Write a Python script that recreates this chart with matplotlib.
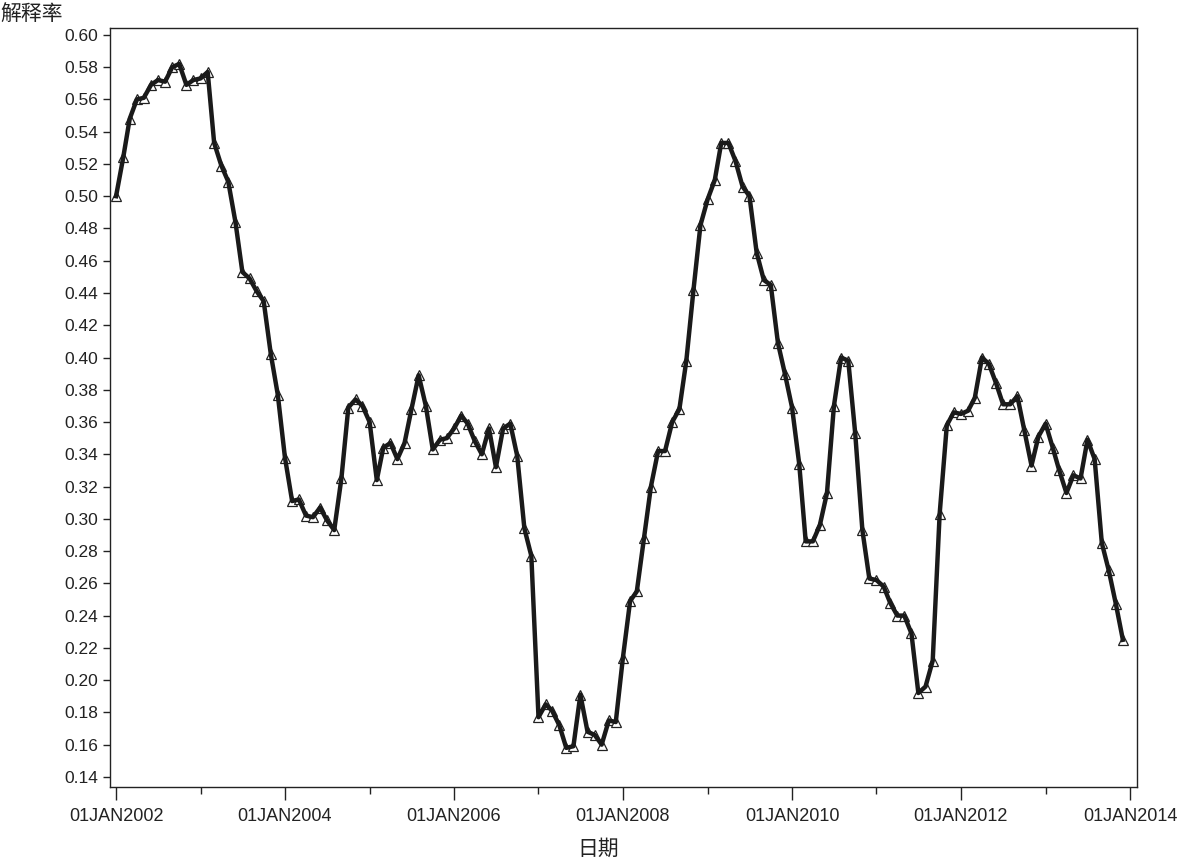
import numpy as np
import matplotlib
matplotlib.use('Agg')
import matplotlib.pyplot as plt
import matplotlib.dates as mdates
import pandas as pd
import datetime as dt

plt.rcParams['font.family'] = ['Liberation Sans', 'Noto Sans CJK SC', 'DejaVu Sans']

# monthly explained ratio, Jan 2002 - Dec 2013
r2002 = [0.500, 0.524, 0.548, 0.560, 0.561, 0.569, 0.572, 0.571, 0.580, 0.582, 0.569, 0.572]
r2003 = [0.573, 0.577, 0.533, 0.519, 0.509, 0.484, 0.453, 0.449, 0.441, 0.435, 0.402, 0.377]
r2004 = [0.338, 0.311, 0.312, 0.302, 0.301, 0.307, 0.299, 0.293, 0.325, 0.369, 0.374, 0.370]
r2005 = [0.360, 0.324, 0.344, 0.347, 0.337, 0.347, 0.368, 0.389, 0.370, 0.343, 0.349, 0.350]
r2006 = [0.356, 0.364, 0.359, 0.348, 0.340, 0.356, 0.332, 0.356, 0.359, 0.339, 0.294, 0.277]
r2007 = [0.177, 0.185, 0.181, 0.172, 0.158, 0.159, 0.191, 0.168, 0.166, 0.160, 0.175, 0.174]
r2008 = [0.214, 0.249, 0.255, 0.288, 0.320, 0.342, 0.342, 0.360, 0.368, 0.398, 0.442, 0.482]
r2009 = [0.498, 0.510, 0.533, 0.533, 0.522, 0.506, 0.500, 0.465, 0.448, 0.445, 0.409, 0.390]
r2010 = [0.369, 0.334, 0.286, 0.286, 0.296, 0.316, 0.370, 0.400, 0.398, 0.353, 0.293, 0.263]
r2011 = [0.262, 0.258, 0.248, 0.240, 0.240, 0.229, 0.192, 0.196, 0.212, 0.303, 0.358, 0.366]
r2012 = [0.365, 0.367, 0.375, 0.400, 0.396, 0.384, 0.371, 0.371, 0.376, 0.355, 0.333, 0.351]
r2013 = [0.359, 0.344, 0.330, 0.316, 0.327, 0.325, 0.349, 0.337, 0.285, 0.268, 0.247, 0.225]

ratio = r2002 + r2003 + r2004 + r2005 + r2006 + r2007 + r2008 + r2009 + r2010 + r2011 + r2012 + r2013
dates = pd.date_range('2002-01-01', periods=len(ratio), freq='MS')

fig = plt.figure(figsize=(11.77, 8.6), dpi=100)
ax = fig.add_axes([0.0935, 0.085, 0.8725, 0.8825])

ax.plot(dates, ratio, ls='none', marker='^', markersize=6.5,
        markerfacecolor='white', markeredgecolor='#222222', markeredgewidth=0.9, zorder=2)
ax.plot(dates, ratio, color='#1a1a1a', lw=3.2, zorder=3)

ax.set_ylim(0.1338, 0.6043)
ax.set_yticks(np.arange(0.14, 0.601, 0.02))
ax.yaxis.set_major_formatter(matplotlib.ticker.FormatStrFormatter('%.2f'))

ax.set_xlim(mdates.date2num(dt.datetime(2001, 12, 6)), mdates.date2num(dt.datetime(2014, 1, 31)))
ax.xaxis.set_major_locator(mdates.YearLocator(2))
ax.xaxis.set_minor_locator(mdates.YearLocator(1))
ax.xaxis.set_major_formatter(matplotlib.ticker.FuncFormatter(
    lambda x, p: mdates.num2date(x).strftime('%d%b%Y').upper()))

ax.tick_params(axis='y', labelsize=12.5, length=5, width=1, colors='#222222')
ax.tick_params(axis='x', which='major', labelsize=13, length=9, width=1, pad=6, colors='#222222')
ax.tick_params(axis='x', which='minor', length=5, width=1, colors='#222222')
for s in ax.spines.values():
    s.set_linewidth(1)
    s.set_color('#222222')

fig.text(0.0, 0.997, '解释率', fontsize=15, ha='left', va='top', color='#222222',
         family=['Noto Sans CJK SC', 'DejaVu Sans'])
fig.text(598 / 1177, 0.0, '日期', fontsize=15, ha='center', va='bottom', color='#222222',
         family=['Noto Sans CJK SC', 'DejaVu Sans'])

fig.savefig('out.png', dpi=100)
